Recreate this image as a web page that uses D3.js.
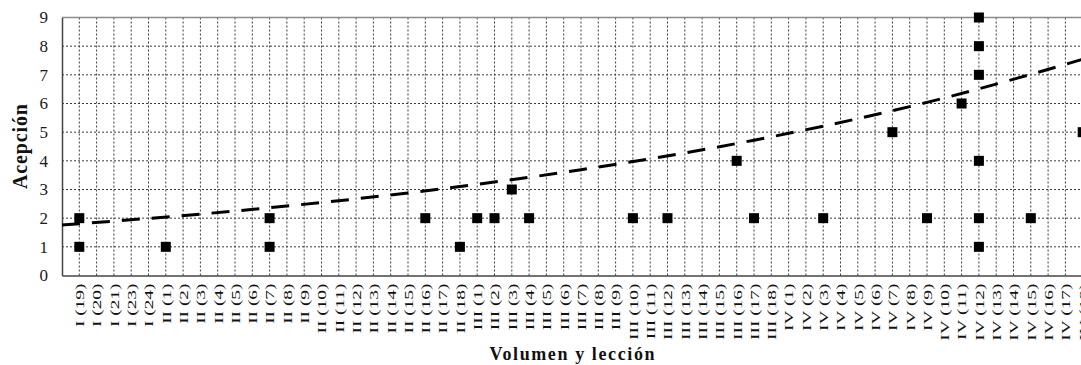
<!DOCTYPE html>
<html>
<head>
<meta charset="utf-8">
<script src="https://cdn.jsdelivr.net/npm/d3@7"></script>
<style>
  body { margin: 0; background: #fff; }
  svg { display: block; font-family: "Liberation Serif", "Times New Roman", serif; }
</style>
</head>
<body>
<div id="chart"></div>
<script>
// categories (volume and lesson)
var categories = [
  "I (19)", "I (20)", "I (21)", "I (23)", "I (24)",
  "II (1)", "II (2)", "II (3)", "II (4)", "II (5)", "II (6)", "II (7)", "II (8)", "II (9)",
  "II (10)", "II (11)", "II (12)", "II (13)", "II (14)", "II (15)", "II (16)", "II (17)", "II (18)",
  "III (1)", "III (2)", "III (3)", "III (4)", "III (5)", "III (6)", "III (7)", "III (8)", "III (9)",
  "III (10)", "III (11)", "III (12)", "III (13)", "III (14)", "III (15)", "III (16)", "III (17)", "III (18)",
  "IV (1)", "IV (2)", "IV (3)", "IV (4)", "IV (5)", "IV (6)", "IV (7)", "IV (8)", "IV (9)",
  "IV (10)", "IV (11)", "IV (12)", "IV (13)", "IV (14)", "IV (15)", "IV (16)", "IV (17)", "IV (18)"
];

// scatter points
var pointCat = ["I (19)", "I (19)", "II (1)", "II (7)", "II (7)", "II (16)", "II (18)", "III (1)", "III (2)",
  "III (3)", "III (4)", "III (10)", "III (12)", "III (16)", "III (17)", "IV (3)", "IV (7)", "IV (9)",
  "IV (11)", "IV (12)", "IV (12)", "IV (12)", "IV (12)", "IV (12)", "IV (12)", "IV (15)", "IV (18)"];
var pointVal = [1, 2, 1, 1, 2, 2, 1, 2, 2, 3, 2, 2, 2, 4, 2, 2, 5, 2, 6, 1, 2, 4, 7, 8, 9, 2, 5];

// trend line readings (position = category index, -1 is the left edge)
var trendPos = [-1, 9, 19, 29, 39, 49, 59];
var trendVal = [1.76, 2.25, 2.88, 3.69, 4.72, 6.04, 7.72];

var yTicks = [0, 1, 2, 3, 4, 5, 6, 7, 8, 9];

var width = 1081, height = 365;
var plotLeft = 62, plotTop = 17.5, plotBottom = 275.5;

var svg = d3.select("#chart").append("svg").attr("width", width).attr("height", height);

var x = d3.scaleLinear().domain([-1, categories.length]).range([plotLeft, plotLeft + (categories.length + 1) * 17.3]);
var y = d3.scaleLinear().domain([0, 9]).range([plotBottom, plotTop]);
var plotRight = x(categories.length);

// grid
svg.append("g").selectAll("line").data(categories).enter().append("line")
  .attr("x1", function(d, i) { return x(i); }).attr("x2", function(d, i) { return x(i); })
  .attr("y1", plotTop).attr("y2", plotBottom)
  .attr("stroke", "#3a3a3a").attr("stroke-width", 1).attr("stroke-dasharray", "2,2");
svg.append("g").selectAll("line").data(yTicks.slice(1, 9)).enter().append("line")
  .attr("x1", plotLeft).attr("x2", plotRight)
  .attr("y1", function(d) { return y(d); }).attr("y2", function(d) { return y(d); })
  .attr("stroke", "#3a3a3a").attr("stroke-width", 1).attr("stroke-dasharray", "2,2");

// frame
svg.append("line").attr("x1", plotLeft).attr("x2", plotRight).attr("y1", plotTop).attr("y2", plotTop)
  .attr("stroke", "#8a8a8a").attr("stroke-width", 1.5);

// y axis
var yAxis = svg.append("g").attr("transform", "translate(" + plotLeft + ",0)")
  .call(d3.axisLeft(y).tickValues(yTicks).tickSize(0).tickPadding(14));
yAxis.select(".domain").attr("stroke", "#444").attr("stroke-width", 1.5);
yAxis.selectAll("text").attr("font-size", "17px").attr("fill", "#1a1a1a")
  .attr("font-family", "Liberation Serif, serif");

// x axis
var xAxis = svg.append("g").attr("transform", "translate(0," + plotBottom + ")")
  .call(d3.axisBottom(x).tickValues(d3.range(categories.length)).tickSize(0)
    .tickFormat(function(i) { return categories[i]; }));
xAxis.select(".domain").attr("stroke", "#444").attr("stroke-width", 1.5);
xAxis.selectAll("text")
  .attr("font-size", "12.5px").attr("fill", "#111").attr("font-family", "Liberation Serif, serif")
  .attr("text-anchor", "end").attr("dy", "0.35em").attr("y", 0)
  .attr("transform", "translate(0,8) rotate(-90) scale(1.55,1)");

// trend line
var line = d3.line().x(function(d, i) { return x(trendPos[i]); }).y(function(d) { return y(d); })
  .curve(d3.curveMonotoneX);
svg.append("path").datum(trendVal).attr("d", line)
  .attr("fill", "none").attr("stroke", "#000").attr("stroke-width", 3)
  .attr("stroke-dasharray", "18,12");

// markers
var size = 10;
svg.append("g").selectAll("rect").data(pointVal).enter().append("rect")
  .attr("x", function(d, i) { return x(categories.indexOf(pointCat[i])) - size / 2; })
  .attr("y", function(d) { return y(d) - size / 2; })
  .attr("width", size).attr("height", size).attr("fill", "#000");

// axis titles
svg.append("text").attr("transform", "translate(27," + (plotTop + plotBottom) / 2 + ") rotate(-90)")
  .attr("text-anchor", "middle").attr("font-size", "20px").attr("font-weight", "bold")
  .attr("textLength", 85).attr("fill", "#111").text("Acepción");
svg.append("text").attr("x", 572).attr("y", 360)
  .attr("text-anchor", "middle").attr("font-size", "18px").attr("font-weight", "bold")
  .attr("textLength", 165).attr("fill", "#111").text("Volumen y lección");
</script>
</body>
</html>
